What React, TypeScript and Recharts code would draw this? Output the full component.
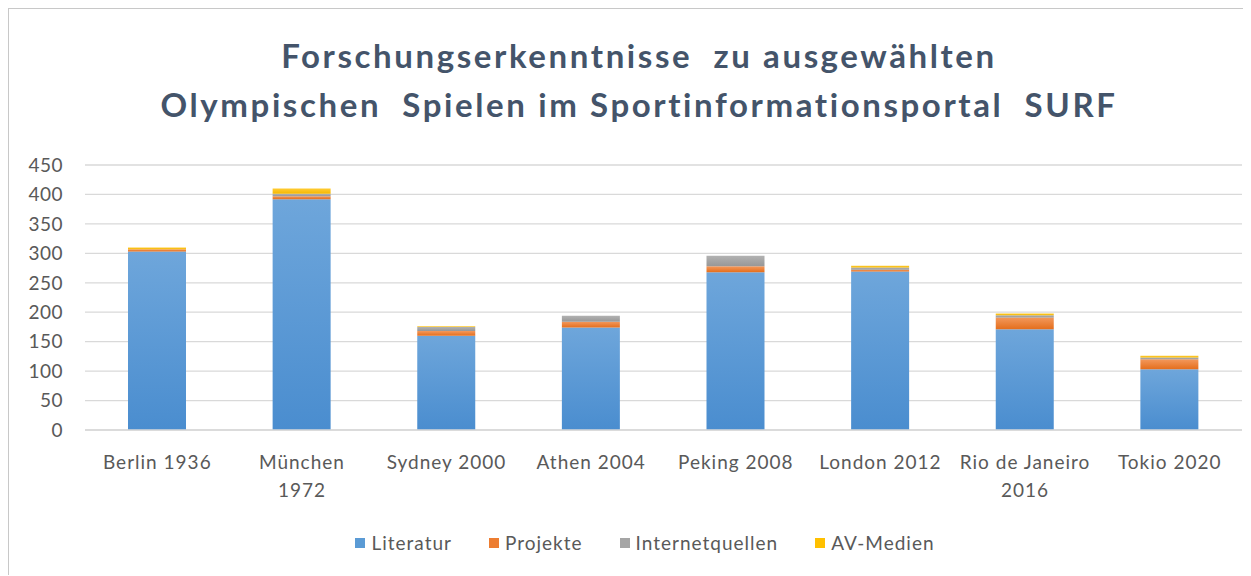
import React from 'react';
import { BarChart, Bar, XAxis, YAxis, CartesianGrid } from 'recharts';

const categories = ['Berlin 1936', 'München 1972', 'Sydney 2000', 'Athen 2004', 'Peking 2008', 'London 2012', 'Rio de Janeiro 2016', 'Tokio 2020'];
const tickLines = [['Berlin 1936'], ['München', '1972'], ['Sydney 2000'], ['Athen 2004'], ['Peking 2008'], ['London 2012'], ['Rio de Janeiro', '2016'], ['Tokio 2020']];
const literatur = [303, 392, 160, 174, 268, 269, 171, 103];
const projekte = [4, 5, 8, 10, 10, 3, 20, 17];
const internetquellen = [0, 4, 7, 10, 18, 4, 4, 3];
const avMedien = [3, 9, 1, 0, 0, 3, 3, 3];
const yTicks = [0, 50, 100, 150, 200, 250, 300, 350, 400, 450];

const FONT = 'Lato, "Open Sans", sans-serif';
const TEXT = '#595959';

const seriesDefs = [
  { key: 'Literatur', color: '#5B9BD5', top: '#6EA6DB', bottom: '#4A8DCF' },
  { key: 'Projekte', color: '#ED7D31', top: '#F3985C', bottom: '#E46E1C' },
  { key: 'Internetquellen', color: '#A5A5A5', top: '#B2B2B2', bottom: '#979797' },
  { key: 'AV-Medien', color: '#FFC000', top: '#FFCB33', bottom: '#F5B800' },
];

const data = categories.map((name, i) => ({
  name,
  Literatur: literatur[i],
  Projekte: projekte[i],
  Internetquellen: internetquellen[i],
  'AV-Medien': avMedien[i],
}));

const XTick = (props: any) => {
  const { x, y, index } = props;
  const lines = tickLines[index] || [categories[index]];
  return (
    <text x={x} y={y} textAnchor="middle" fill={TEXT} fontSize={19} fontFamily={FONT} letterSpacing={1}>
      {lines.map((l, i) => (
        <tspan key={i} x={x} dy={i === 0 ? 31 : 28}>{l}</tspan>
      ))}
    </text>
  );
};

export default function App() {
  return (
    <div style={{ position: 'relative', width: 1243, height: 568, borderTop: '2px solid #C8C8C8', borderLeft: '2px solid #C8C8C8', boxSizing: 'border-box', background: '#fff', margin: '-1px 0 0 -1px' }}>
      <div style={{ position: 'absolute', top: 22, left: 0, width: 1260, textAlign: 'center', fontFamily: FONT, fontWeight: 700, fontSize: 33, letterSpacing: 2.6, color: '#44546A', lineHeight: '49px' }}>
        <div style={{ whiteSpace: 'pre' }}>Forschungserkenntnisse  zu ausgewählten</div>
        <div style={{ whiteSpace: 'pre' }}>Olympischen  Spielen im Sportinformationsportal  SURF</div>
      </div>
      <BarChart width={1241} height={566} data={data} margin={{ top: 156, right: 8, bottom: 115, left: 6 }} barSize={58}>
        <defs>
          {seriesDefs.map((s, i) => (
            <linearGradient key={s.key} id={`g${i}`} x1="0" y1="0" x2="0" y2="1">
              <stop offset="0%" stopColor={s.top} />
              <stop offset="100%" stopColor={s.bottom} />
            </linearGradient>
          ))}
        </defs>
        <CartesianGrid vertical={false} stroke="#D9D9D9" strokeWidth={1.3} />
        <XAxis dataKey="name" axisLine={{ stroke: '#D9D9D9', strokeWidth: 1.3 }} tickLine={false} tick={<XTick />} interval={0} />
        <YAxis domain={[0, 450]} ticks={yTicks} interval={0} axisLine={false} tickLine={false} width={70} tickMargin={16}
          tick={{ fill: TEXT, fontSize: 19, fontFamily: FONT, letterSpacing: 0.5 }} />
        {seriesDefs.map((s, i) => (
          <Bar key={s.key} dataKey={s.key} stackId="a" fill={`url(#g${i})`} isAnimationActive={false} />
        ))}
      </BarChart>
      <div style={{ position: 'absolute', top: 522, left: 645 - 9 - 400, width: 800, display: 'flex', justifyContent: 'center', gap: 37, fontFamily: FONT, fontSize: 19, letterSpacing: 1, color: TEXT }}>
        {seriesDefs.map(s => (
          <div key={s.key} style={{ display: 'flex', alignItems: 'center', gap: 6 }}>
            <span style={{ width: 10, height: 10, background: s.color, display: 'inline-block' }} />
            <span>{s.key}</span>
          </div>
        ))}
      </div>
    </div>
  );
}
